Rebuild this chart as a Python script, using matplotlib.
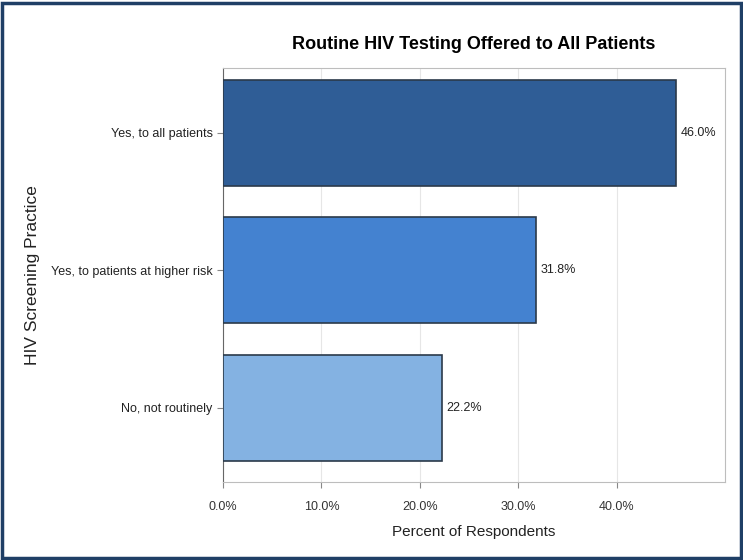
import matplotlib.pyplot as plt
from matplotlib.patches import Rectangle

plt.rcParams['font.family'] = ['Liberation Sans', 'DejaVu Sans']

categories = ['Yes, to all patients', 'Yes, to patients at higher risk', 'No, not routinely']
values = [46.0, 31.8, 22.2]
colors = ['#2f5d96', '#4482d0', '#84b2e2']
xticks = [0, 10, 20, 30, 40]

fig = plt.figure(figsize=(7.43, 5.60), dpi=100)
ax = fig.add_axes([223/743, 1-482/560, (725-223)/743, (482-68)/560])

pos = [2, 1, 0]
ax.barh(pos, values, height=0.77, color=colors, edgecolor='#2b3a4a', linewidth=1.2, zorder=3)
for p, v in zip(pos, values):
    ax.text(v + 0.5, p, f'{v:.1f}%', va='center', ha='left', fontsize=9, color='#222222')

ax.set_xlim(0, 51)
ax.set_ylim(-0.54, 2.47)
ax.set_xticks(xticks)
ax.set_xticklabels([f'{t:.1f}%' for t in xticks], fontsize=9, color='#333333')
ax.set_yticks(pos)
ax.set_yticklabels(categories, fontsize=9, color='#222222')
ax.grid(axis='x', color='#e6e6e6', linewidth=0.8, zorder=0)
for s in ax.spines.values():
    s.set_color('#bdbdbd')
ax.spines['left'].set_color('#666666')
ax.tick_params(axis='both', length=4, color='#888888')
ax.tick_params(axis='x', pad=10)

ax.set_xlabel('Percent of Respondents', fontsize=11, labelpad=8, color='#222222')
ax.set_ylabel('HIV Screening Practice', fontsize=12.5, color='#222222')
ax.yaxis.set_label_coords(-0.365, 0.5)
ax.set_title('Routine HIV Testing Offered to All Patients', fontsize=13, fontweight='bold', pad=14)

fig.patches.append(Rectangle((0.003, 0.004), 0.994, 0.99, transform=fig.transFigure,
                             fill=False, edgecolor='#1f3f66', linewidth=2.5))

fig.savefig('out.png', dpi=100)
